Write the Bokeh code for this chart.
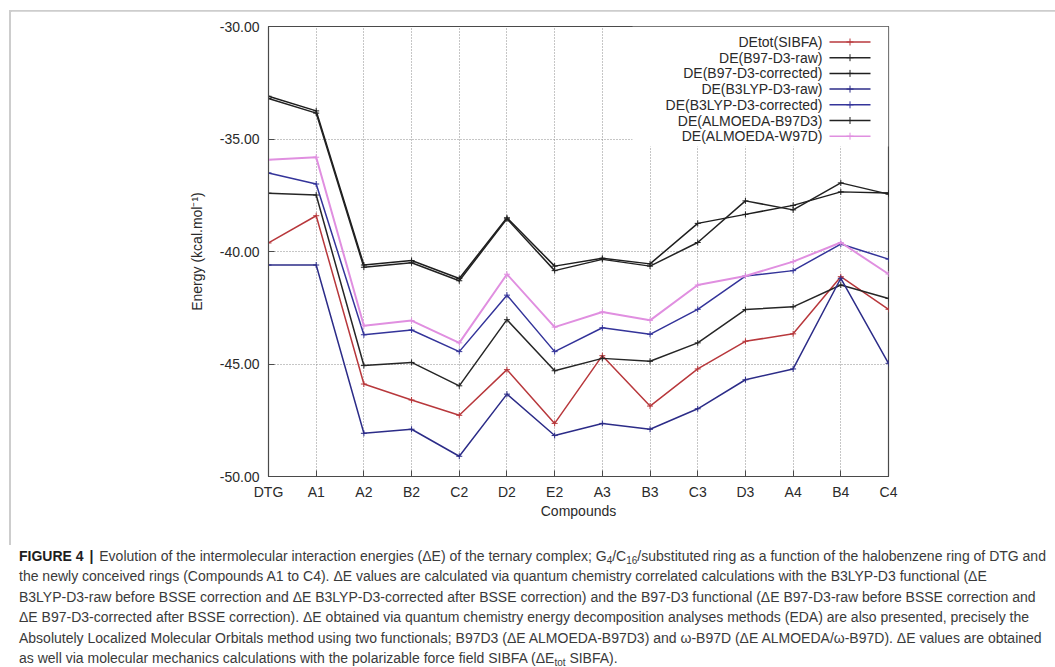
from bokeh.plotting import figure
from bokeh.models import FixedTicker, Range1d, NumeralTickFormatter, Div
from bokeh.layouts import column, row
from bokeh.embed import file_html
from bokeh.resources import INLINE
from bokeh.core.properties import value

# ---------------- data ----------------
categories = ["DTG", "A1", "A2", "B2", "C2", "D2", "E2", "A3", "B3", "C3", "D3", "A4", "B4", "C4"]

de_sibfa = [-39.62, -38.41, -45.89, -46.60, -47.28, -45.25, -47.64, -44.63, -46.87, -45.22, -43.99, -43.66, -41.12, -42.57]
de_b97_raw = [-37.41, -37.49, -45.07, -44.93, -45.97, -43.03, -45.30, -44.75, -44.88, -44.06, -42.58, -42.46, -41.49, -42.09]
de_b97_corr = [-33.10, -33.75, -40.60, -40.40, -41.20, -38.50, -40.65, -40.30, -40.55, -38.75, -38.35, -37.95, -37.35, -37.40]
de_b3lyp_raw = [-40.60, -40.60, -48.08, -47.90, -49.10, -46.34, -48.18, -47.64, -47.90, -46.99, -45.70, -45.22, -41.19, -44.97]
de_b3lyp_corr = [-36.51, -37.00, -43.70, -43.49, -44.45, -41.94, -44.45, -43.39, -43.68, -42.57, -41.09, -40.85, -39.67, -40.34]
de_almo_b97d3 = [-33.20, -33.85, -40.70, -40.50, -41.30, -38.55, -40.85, -40.35, -40.65, -39.60, -37.75, -38.15, -36.95, -37.45]
de_almo_w97d = [-35.92, -35.81, -43.30, -43.07, -44.06, -41.01, -43.36, -42.69, -43.06, -41.49, -41.09, -40.45, -39.60, -41.00]

series_labels = ["DEtot(SIBFA)", "DE(B97-D3-raw)", "DE(B97-D3-corrected)", "DE(B3LYP-D3-raw)",
                 "DE(B3LYP-D3-corrected)", "DE(ALMOEDA-B97D3)", "DE(ALMOEDA-W97D)"]
series_values = [de_sibfa, de_b97_raw, de_b97_corr, de_b3lyp_raw, de_b3lyp_corr, de_almo_b97d3, de_almo_w97d]
series_colors = ["#b8383c", "#262626", "#1e1e1e", "#2c2c88", "#34349a", "#222222", "#e08fe0"]

y_ticks = [-50, -45, -40, -35, -30]

SUB = "<span style='font-size:10px;position:relative;top:3px;line-height:0'>{}</span>"
caption_html_lines = [
    "<b style='color:#1e1e1e'>FIGURE 4</b> <b style='color:#1e1e1e;margin:0 2px'>|</b> Evolution of the intermolecular interaction energies (\u0394E) of the ternary complex; G"
    + SUB.format("4") + "/C" + SUB.format("16") + "/substituted ring as a function of the halobenzene ring of DTG and",
    "the newly conceived rings (Compounds A1 to C4). \u0394E values are calculated via quantum chemistry correlated calculations with the B3LYP-D3 functional (\u0394E",
    "B3LYP-D3-raw before BSSE correction and \u0394E B3LYP-D3-corrected after BSSE correction) and the B97-D3 functional (\u0394E B97-D3-raw before BSSE correction and",
    "\u0394E B97-D3-corrected after BSSE correction). \u0394E obtained via quantum chemistry energy decomposition analyses methods (EDA) are also presented, precisely the",
    "Absolutely Localized Molecular Orbitals method using two functionals; B97D3 (\u0394E ALMOEDA-B97D3) and \u03c9-B97D (\u0394E ALMOEDA/\u03c9-B97D). \u0394E values are obtained",
    "as well via molecular mechanics calculations with the polarizable force field SIBFA (\u0394E" + SUB.format("tot") + " SIBFA).",
]

# ---------------- layout geometry (page pixels) ----------------
PAGE_W = 1055
OFF = 11                                   # plot canvas origin on the page (after the light outer frame)
CAP_TOP = 545                              # top of the caption block
FRAME_L, FRAME_T, FRAME_W, FRAME_H = 268, 26, 620, 450   # plot frame on the page
FRAME_COLOR = "#cdcdcd"
FONT = "Liberation Sans"

W = PAGE_W - OFF
H = CAP_TOP - OFF
FL, FT = FRAME_L - OFF, FRAME_T - OFF

xs = list(range(len(categories)))
X0, X1 = 0, len(categories) - 1
Y0, Y1 = -50, -30


def dx(px):   # page pixel x -> data x
    return X0 + (px - FRAME_L) * (X1 - X0) / FRAME_W


def dy(py):   # page pixel y -> data y
    return Y1 - (py - FRAME_T) * (Y1 - Y0) / FRAME_H


p = figure(width=W, height=H, x_range=Range1d(X0, X1), y_range=Range1d(Y0, Y1),
           output_backend="svg", toolbar_location=None,
           min_border_left=FL, min_border_right=W - FL - FRAME_W, min_border_top=FT,
           min_border_bottom=H - FT - FRAME_H,
           background_fill_color="white", border_fill_color="white")

p.outline_line_color = "#4a4a4a"
p.outline_line_width = 1.2

# grids
p.xgrid.ticker = FixedTicker(ticks=xs)
p.ygrid.ticker = FixedTicker(ticks=y_ticks)
for g in (p.xgrid, p.ygrid):
    g.grid_line_color = "#8c8c8c"
    g.grid_line_dash = "1 2"
    g.grid_line_width = 1

# axes
xa = p.xaxis[0]
xa.ticker = FixedTicker(ticks=xs)
xa.major_label_overrides = {i: c for i, c in enumerate(categories)}
xa.axis_label = "Compounds"
ya = p.yaxis[0]
ya.ticker = FixedTicker(ticks=y_ticks)
ya.formatter = NumeralTickFormatter(format="0.00")
ya.axis_label = "Energy (kcal.mol\u207b\u00b9)"
for ax in (xa, ya):
    ax.axis_line_color = "#4a4a4a"
    ax.major_tick_in = 6
    ax.major_tick_out = 0
    ax.major_tick_line_color = "#4a4a4a"
    ax.minor_tick_line_color = None
    ax.major_label_text_font = FONT
    ax.major_label_text_font_size = "14px"
    ax.major_label_text_color = "#2a2a2a"
    ax.axis_label_text_font = FONT
    ax.axis_label_text_font_size = "14px"
    ax.axis_label_text_font_style = "normal"
    ax.axis_label_text_color = "#2a2a2a"
xa.major_label_standoff = 7
xa.axis_label_standoff = 0
ya.major_label_standoff = 9
ya.axis_label_standoff = 12

# data lines
for lab, vals, col in zip(series_labels, series_values, series_colors):
    lw = 2 if col == "#e08fe0" else 1.5
    p.line(xs, vals, line_color=col, line_width=lw)
    p.scatter(xs, vals, marker="cross", size=6, line_color=col, line_width=1)

# legend (gnuplot style: right aligned text, sample on the right, opaque box)
n = len(series_labels)
leg_y = [dy(41.5 + 15.7 * k) for k in range(n)]
p.quad(left=[dx(632)], right=[X1], bottom=[dy(146)], top=[Y1], fill_color="white", line_color=None)
p.text(x=[dx(822)] * n, y=leg_y, text=series_labels, text_align="right", text_baseline="middle",
       text_font=value(FONT), text_font_size="14px", text_color="#2a2a2a")
p.segment(x0=[dx(829)] * n, x1=[dx(870)] * n, y0=leg_y, y1=leg_y, line_color=series_colors, line_width=1.5)
p.scatter(x=[dx(849.5)] * n, y=leg_y, marker="cross", size=7, line_color=series_colors, line_width=1)

# ---------------- light outer frame of the figure image ----------------
top_strip = Div(
    text=f"<div style='padding:9px 0 0 9px;margin:0'><div style='width:{PAGE_W - 9}px;height:2px;"
         f"background:{FRAME_COLOR}'></div></div>",
    width=PAGE_W, height=OFF, margin=0)
left_strip = Div(
    text=f"<div style='padding:0 0 0 9px;margin:0'><div style='width:2px;height:{H}px;"
         f"background:{FRAME_COLOR}'></div></div>",
    width=OFF, height=H, margin=0)

# ---------------- caption ----------------
caption = Div(
    text="<div style=\"font-family:'Liberation Sans';font-size:14px;line-height:20.4px;box-sizing:border-box;"
         f"color:#3a3a3a;white-space:nowrap;overflow:hidden;width:{PAGE_W}px;padding:1px 0 0 19px;margin:0\">"
         + "<br>".join(caption_html_lines) + "</div>",
    width=PAGE_W, height=667 - CAP_TOP, margin=0,
)

layout = column(top_strip, row(left_strip, p, spacing=0), caption, spacing=0)
open("out.html", "w").write(file_html(layout, INLINE))
